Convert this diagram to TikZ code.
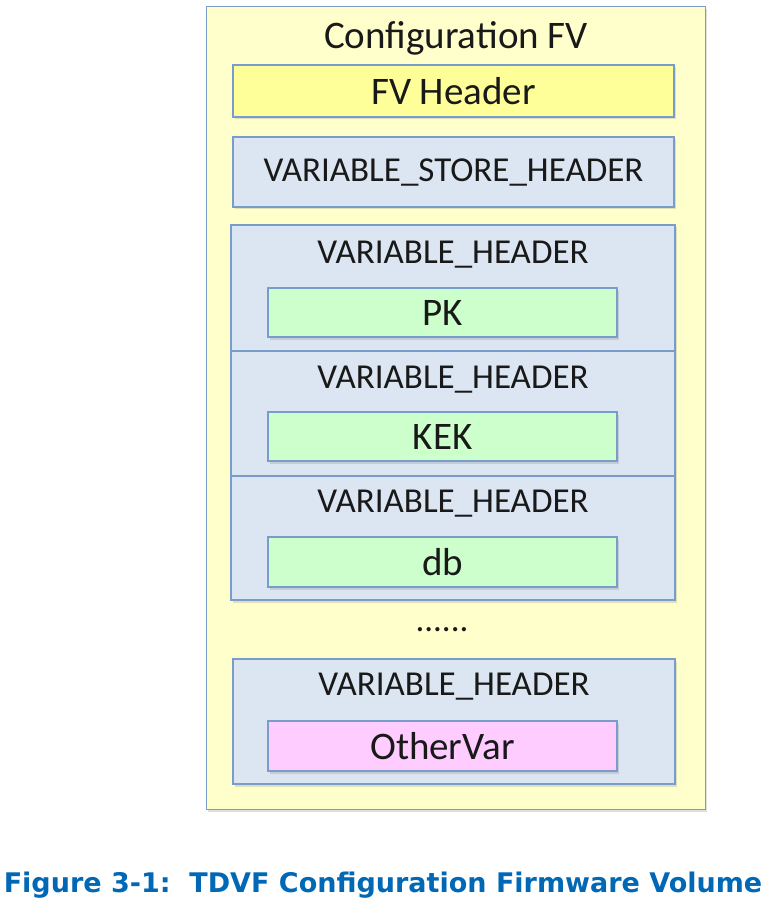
\documentclass[tikz,border=0pt]{standalone}
\usepackage{fontspec}
\setmainfont{Carlito}
\newfontfamily\capfont{DejaVu Sans}
\usetikzlibrary{shadows}
\definecolor{edgeblue}{HTML}{7A9CCB}
\definecolor{outerfill}{HTML}{FFFFCC}
\definecolor{hdrfill}{HTML}{FFFF99}
\definecolor{bluefill}{HTML}{DCE6F2}
\definecolor{greenfill}{HTML}{CCFFCC}
\definecolor{pinkfill}{HTML}{FFCCFF}
\definecolor{capblue}{HTML}{0068B5}
\begin{document}
\begin{tikzpicture}[x=1pt,y=-1pt,
  shd/.style={drop shadow={opacity=0.25,shadow xshift=1.5pt,shadow yshift=-2.5pt}},
  box/.style={draw=edgeblue,line width=1.6pt,inner sep=0pt,shd},
  lbl/.style={font=\fontsize{35}{35}\selectfont,text=black!90,inner sep=0pt},
  big/.style={font=\fontsize{39}{39}\selectfont,text=black!90,inner sep=0pt}]
\useasboundingbox (0,0) rectangle (767,901);
% outer volume
\node[box,fill=outerfill,minimum width=499pt,minimum height=803pt] (fv) at (456,408) {};
\node[big] (fvtitle) at (456,38) {Configuration FV};
% FV header
\node[box,fill=hdrfill,minimum width=441pt,minimum height=52pt,big] (fvh) at (453.5,91) {FV Header};
% variable store header
\node[box,fill=bluefill,minimum width=441pt,minimum height=70pt,lbl] (vsh) at (453.5,172) {VARIABLE\_STORE\_HEADER};
% variable headers
\node[box,fill=bluefill,minimum width=444pt,minimum height=126pt] (vh1) at (453,288) {};
\node[box,fill=bluefill,minimum width=444pt,minimum height=125pt] (vh2) at (453,413.5) {};
\node[box,fill=bluefill,minimum width=444pt,minimum height=124pt] (vh3) at (453,538) {};
\node[lbl] (t1) at (453,255) {VARIABLE\_HEADER};
\node[lbl] (t2) at (453,380) {VARIABLE\_HEADER};
\node[lbl] (t3) at (453,504) {VARIABLE\_HEADER};
\node[box,fill=greenfill,minimum width=349pt,minimum height=49pt,big] (pk) at (442.5,312.5) {PK};
\node[box,fill=greenfill,minimum width=349pt,minimum height=49pt,big] (kek) at (442.5,436.5) {KEK};
\node[box,fill=greenfill,minimum width=349pt,minimum height=50pt,big] (db) at (442.5,562) {db};
% dots
\node[lbl] (dots) at (442,630) {......};
% last variable
\node[box,fill=bluefill,minimum width=442pt,minimum height=125pt] (vh4) at (454,721.5) {};
\node[lbl] (t4) at (454,687) {VARIABLE\_HEADER};
\node[box,fill=pinkfill,minimum width=349pt,minimum height=50pt,big] (other) at (442.5,746) {OtherVar};
% caption
\node[font=\capfont\bfseries\fontsize{27}{27}\selectfont,text=capblue,inner sep=0pt] (cap) at (383,885) {Figure 3-1:\ \ TDVF Configuration Firmware Volume};
\end{tikzpicture}
\end{document}
